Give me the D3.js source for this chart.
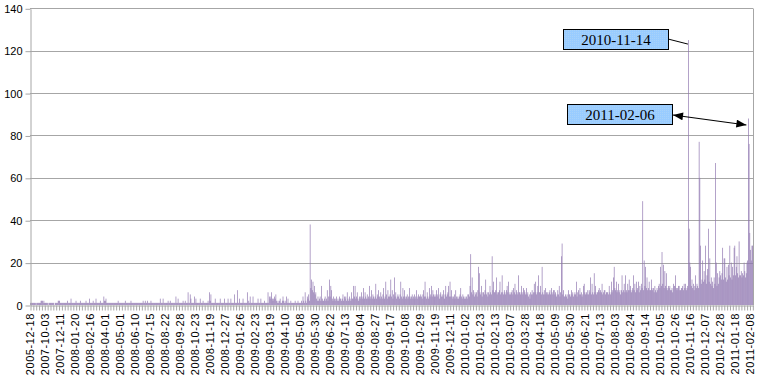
<!DOCTYPE html>
<html><head><meta charset="utf-8">
<script src="https://cdn.jsdelivr.net/npm/d3@7/dist/d3.min.js"></script>
<style>body{margin:0;background:#fff}svg{display:block}</style>
</head><body><svg id="c" width="763" height="380"></svg>
<script>
// Category-axis label dates (every 21st category)
const tickLabels = ["2005-12-18","2007-10-03","2007-12-11","2008-01-20","2008-02-16","2008-04-01","2008-05-01","2008-06-10","2008-07-15","2008-08-22","2008-09-28","2008-10-23","2008-11-19","2008-12-27","2009-01-26","2009-02-23","2009-03-19","2009-04-10","2009-05-08","2009-05-30","2009-06-22","2009-07-13","2009-08-04","2009-08-27","2009-09-17","2009-10-08","2009-10-29","2009-11-19","2009-12-11","2010-01-02","2010-01-23","2010-02-13","2010-03-07","2010-03-28","2010-04-18","2010-05-09","2010-05-30","2010-06-21","2010-07-13","2010-08-03","2010-08-24","2010-09-14","2010-10-05","2010-10-26","2010-11-16","2010-12-07","2010-12-28","2011-01-18","2011-02-08"];
const yTicks = [0,20,40,60,80,100,120,140];
// Daily values, 21 per label interval
const values = [
1,1,1,1,1,1,1,1,0,1,1,1,1,1,1,2,2,2,1,2,1,
1,1,1,1,0,1,1,1,1,1,1,1,1,0,1,1,1,1,2,2,2,
1,1,1,1,1,1,1,1,1,1,2,1,1,1,1,3,1,1,1,1,1,
1,2,1,1,1,1,1,2,1,1,1,1,1,1,1,2,1,1,1,1,3,
1,1,1,1,2,1,1,1,3,1,1,1,1,1,2,1,1,1,1,4,2,
2,3,1,1,1,1,1,1,1,1,1,1,1,1,1,1,1,1,2,1,1,
1,1,1,1,1,1,1,2,1,1,1,1,1,1,1,2,1,1,1,1,1,
1,1,1,1,1,1,1,1,1,1,1,2,1,1,2,1,1,2,1,1,1,
1,2,1,1,1,1,1,1,1,1,1,1,1,1,3,1,1,1,3,1,1,
1,1,1,1,2,1,1,2,1,1,1,1,1,1,1,4,1,1,3,1,1,
1,1,1,1,2,1,1,2,1,1,1,6,1,1,5,3,1,1,1,1,4,
1,3,1,1,1,1,1,3,1,1,1,2,1,1,1,1,1,1,2,1,6,
2,5,1,1,1,1,1,3,1,1,1,1,1,1,3,1,1,1,1,1,3,
1,1,1,1,3,1,1,1,3,1,1,1,1,5,1,1,1,7,1,1,3,
1,1,1,1,3,1,1,1,1,1,6,1,2,1,4,1,1,1,4,1,1,
1,1,1,1,3,1,1,1,3,1,1,1,1,2,1,1,1,1,6,1,4,
3,4,6,3,2,3,4,3,5,2,1,2,1,2,3,1,1,2,4,2,1,
2,1,4,1,3,1,1,1,2,1,1,1,1,1,2,1,1,1,2,1,1,
1,1,2,1,4,2,1,6,2,1,4,3,5,2,38,8,12,7,11,6,9,
5,6,3,2,4,2,3,4,2,9,3,2,2,3,4,2,3,7,2,4,12,
4,9,7,3,2,4,3,2,3,4,2,3,2,4,3,3,2,3,5,2,4,
3,4,2,6,3,2,4,3,2,6,3,3,9,4,9,3,4,6,3,2,4,
3,4,6,3,4,8,3,6,4,3,5,3,4,9,3,4,7,3,5,4,3,
4,10,3,5,4,7,4,3,6,4,3,5,8,3,4,11,5,3,7,4,4,
5,12,4,7,3,5,13,4,6,3,4,5,4,3,5,11,4,3,8,4,7,
4,3,4,5,3,4,8,4,3,4,5,3,4,5,3,4,7,3,4,5,4,
4,5,4,3,5,7,4,11,4,3,6,4,3,8,4,5,9,4,7,5,4,
5,4,7,5,4,8,3,5,6,4,5,4,7,3,5,9,4,5,6,9,4,
11,4,7,4,3,4,5,3,7,4,3,4,3,4,5,8,4,3,5,4,3,
4,3,4,3,5,5,4,9,24,6,13,5,7,4,6,5,6,4,7,18,15,
6,5,9,4,6,6,5,7,12,5,6,4,6,5,9,6,5,23,7,11,6,
6,7,13,5,6,6,7,11,5,6,14,6,5,7,6,5,7,9,6,11,5,
6,5,6,7,5,8,6,10,5,7,6,5,14,6,6,5,9,6,5,8,7,
6,5,8,5,6,4,5,3,6,5,7,5,6,10,6,11,5,6,9,14,6,
6,9,5,18,6,5,7,5,8,6,5,6,5,6,7,5,8,6,5,7,7,
5,6,4,5,7,5,9,4,6,23,29,5,7,4,4,5,4,5,3,7,5,
5,4,7,5,6,4,5,6,5,11,4,6,7,5,8,5,6,4,5,9,10,
6,5,6,5,7,5,7,6,13,5,10,6,5,15,6,9,5,6,6,7,8,
6,7,6,10,5,6,7,7,5,6,6,6,5,9,6,5,11,6,7,13,18,
8,7,11,6,7,10,6,7,5,7,14,6,7,10,6,14,7,6,10,7,12,
7,9,6,7,8,14,7,10,6,11,7,8,11,6,9,7,10,8,49,7,21,
9,18,8,13,7,8,11,7,7,12,8,7,8,6,9,7,6,8,7,9,10,
8,18,9,25,10,19,8,16,9,15,8,7,9,8,9,7,7,8,6,10,9,
9,14,8,7,8,9,9,7,7,8,8,9,7,10,8,10,7,8,9,125,36,
20,18,9,12,8,10,7,9,14,8,10,9,8,77,60,28,10,12,21,11,16,
12,28,10,14,17,36,11,22,10,13,9,11,8,13,10,67,20,9,15,10,13,
16,14,12,15,27,12,22,22,13,11,18,12,19,14,28,13,20,12,18,14,27,
28,14,18,23,15,13,30,14,14,16,13,15,14,20,16,13,15,20,21,88,76,
34,26,21,28,28
];
const annotations = [
  {date:"2010-11-14", arrows:false},
  {date:"2011-02-06", arrows:true}
];

// build category dates (21 categories per label interval)
const parse = d3.utcParse("%Y-%m-%d"), fmt = d3.utcFormat("%Y-%m-%d");
const categories = [];
for (let k = 0; k < tickLabels.length; k++) {
  const d0 = parse(tickLabels[k]);
  const remaining = values.length - categories.length;
  if (k < tickLabels.length - 1) {
    const gap = d3.utcDay.count(d0, parse(tickLabels[k+1]));
    for (let j = 0; j < 21; j++) categories.push(fmt(d3.utcDay.offset(d0, Math.round(j*gap/21))));
  } else {
    for (let j = 0; j < remaining; j++) categories.push(fmt(d3.utcDay.offset(d0, j)));
  }
}
const data = categories.map((c,i)=>({c, v: values[i]}));

const L = 30, R = 753, T = 8.3, B = 305;
const svg = d3.select("#c");
const x = d3.scaleBand().domain(categories).range([L, R]).paddingInner(0.05).paddingOuter(0);
const y = d3.scaleLinear().domain([0,140]).range([B, T]);
const grid = "#a6a6a6";

// gridlines
svg.append("g").selectAll("line").data(yTicks.filter(t=>t>0)).join("line")
  .attr("x1", L).attr("x2", R).attr("y1", d=>Math.round(y(d))+0.5).attr("y2", d=>Math.round(y(d))+0.5)
  .attr("stroke", grid).attr("stroke-width",1);
// right border
svg.append("line").attr("x1", R+0.5).attr("x2", R+0.5).attr("y1", Math.round(T)+0.5).attr("y2", B)
  .attr("stroke", grid);

// bars
svg.append("g").selectAll("rect").data(data).join("rect")
  .attr("x", d=>x(d.c)).attr("width", x.bandwidth())
  .attr("y", d=>y(d.v)).attr("height", d=>B - y(d.v))
  .attr("fill", "#8f76b0");

// y axis
const yAxis = svg.append("g").attr("transform", `translate(${L+0.5},0.5)`)
  .call(d3.axisLeft(y).tickValues(yTicks).tickSize(5).tickPadding(3).tickSizeOuter(0));
yAxis.select(".domain").attr("stroke", grid);
yAxis.selectAll(".tick line").attr("stroke", grid);
yAxis.selectAll("text").attr("font-family","Liberation Sans, Arial, sans-serif").attr("font-size",11).attr("fill","#000");

// x axis tick marks (every 4 categories)
const xTickAxis = svg.append("g").attr("transform", `translate(0.5,${B+0.5})`)
  .call(d3.axisBottom(x).tickValues(categories.filter((c,i)=>i%4===0)).tickSize(5).tickFormat("").tickSizeOuter(0));
xTickAxis.select(".domain").attr("stroke", grid);
xTickAxis.selectAll(".tick line").attr("stroke", grid);

// x axis labels
const labelIdx = tickLabels.map((t,k)=>k*21);
const xLab = svg.append("g").attr("transform", `translate(0,${B})`)
  .call(d3.axisBottom(x).tickValues(labelIdx.map(i=>categories[i])).tickSize(0).tickPadding(0));
xLab.select(".domain").remove();
xLab.selectAll("text")
  .attr("font-family","Liberation Sans, Arial, sans-serif").attr("font-size",11)
  .attr("letter-spacing","0.6px").attr("fill","#000")
  .attr("transform","rotate(-90)").attr("text-anchor","end")
  .attr("x",-8).attr("y",0).attr("dy","0.36em");

// annotations
const defs = svg.append("defs");
defs.append("marker").attr("id","ah").attr("viewBox","0 0 10 8").attr("refX",10).attr("refY",4)
  .attr("markerWidth",11).attr("markerHeight",8).attr("markerUnits","userSpaceOnUse").attr("orient","auto-start-reverse")
  .append("path").attr("d","M0,0 L10,4 L0,8 Z").attr("fill","#000");
const pat = defs.append("pattern").attr("id","dots").attr("width",2).attr("height",2).attr("patternUnits","userSpaceOnUse");
pat.append("rect").attr("width",2).attr("height",2).attr("fill","#99ccff");
pat.append("rect").attr("width",1).attr("height",1).attr("fill","#a8d2fa");

const boxes = [
  {bx:563, by:29, w:105, h:20},
  {bx:567, by:104, w:105, h:20}
];
annotations.forEach((a,i)=>{
  const idx = categories.indexOf(a.date);
  const cx = x(categories[idx]) + x.bandwidth()/2;
  const cy = y(values[idx]);
  const b = boxes[i];
  const g = svg.append("g");
  if (!a.arrows) {
    g.append("line").attr("x1", b.bx+b.w).attr("y1", b.by+b.h/2).attr("x2", cx-0.5).attr("y2", cy+4)
      .attr("stroke","#000").attr("stroke-width",1);
  } else {
    g.append("line").attr("x1", b.bx+b.w+1).attr("y1", b.by+b.h/2+1).attr("x2", cx-2).attr("y2", cy+6.5)
      .attr("stroke","#000").attr("stroke-width",1.2)
      .attr("marker-start","url(#ah)").attr("marker-end","url(#ah)");
  }
  g.append("rect").attr("x", b.bx+0.5).attr("y", b.by+0.5).attr("width", b.w).attr("height", b.h)
    .attr("fill","url(#dots)").attr("stroke","#000").attr("stroke-width",1);
  g.append("text").attr("x", b.bx+b.w/2+0.5).attr("y", b.by+b.h/2+1).attr("dy","0.35em")
    .attr("text-anchor","middle").attr("font-family","Liberation Serif, Times New Roman, serif")
    .attr("font-size",15).attr("fill","#000").text(a.date);
});
</script>
</body></html>
